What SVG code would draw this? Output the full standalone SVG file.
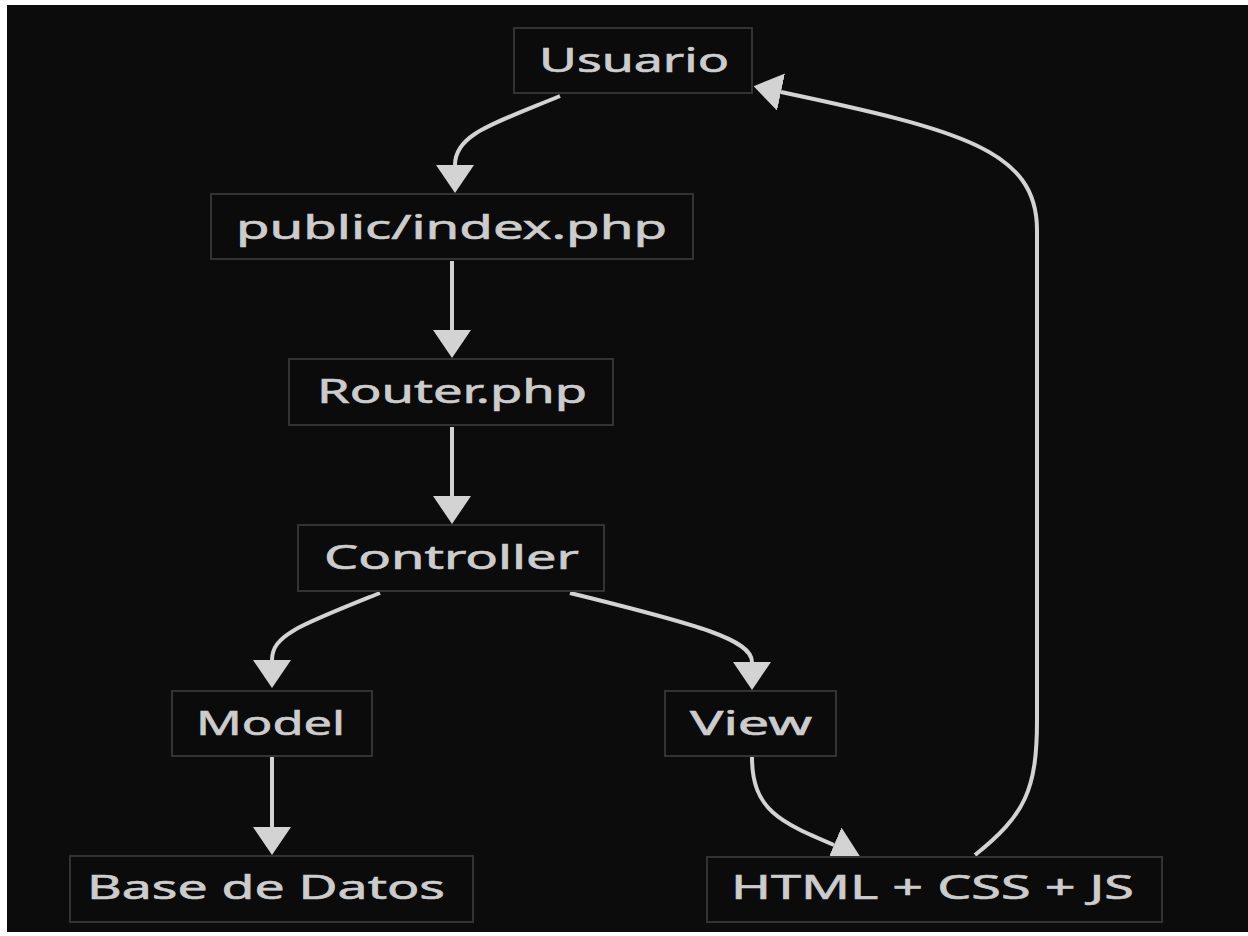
<svg xmlns="http://www.w3.org/2000/svg" width="1248" height="936" viewBox="0 0 1248 936">
<style>
.node rect{fill:#0b0b0b;stroke:#333333;stroke-width:2}
.node text{fill:#cccccc;stroke:#cccccc;stroke-width:0.6;font-family:"Noto Sans","Open Sans","DejaVu Sans",sans-serif;font-size:32px}
.edge{fill:none;stroke:#d3d3d3;stroke-width:4}
</style>
<defs>
<marker id="arrow" viewBox="0 0 28 38" refX="0" refY="19" markerWidth="28" markerHeight="38" markerUnits="userSpaceOnUse" orient="auto">
<path d="M0,0 L28,19 L0,38 z" fill="#d3d3d3"/>
</marker>
</defs>
<rect x="0" y="0" width="1248" height="936" fill="#ffffff"/>
<rect x="7" y="5" width="1241" height="927" fill="#0c0c0c"/>
<g id="connectors">
<path class="edge" d="M560,96 C490,125 455,135 455,165" marker-end="url(#arrow)"/>
<path class="edge" d="M452,261 L452,330" marker-end="url(#arrow)"/>
<path class="edge" d="M452,427 L452,496" marker-end="url(#arrow)"/>
<path class="edge" d="M380,593 C300,625 272,635 272,660" marker-end="url(#arrow)"/>
<path class="edge" d="M570,593 C700,625 752,640 752,662" marker-end="url(#arrow)"/>
<path class="edge" d="M272,757 L272,827" marker-end="url(#arrow)"/>
<path class="edge" d="M752,757 C752,810 780,822 834,845" marker-end="url(#arrow)"/>
<path class="edge" d="M975,855 C1025,815 1037,790 1037,720 L1037,230 C1037,150 960,130 781,92" marker-end="url(#arrow)"/>
</g>
<g id="node-usuario" class="node"><rect x="514" y="28" width="238" height="65"/><text x="539" y="72" textLength="190" lengthAdjust="spacingAndGlyphs">Usuario</text></g>
<g id="node-index" class="node"><rect x="211" y="194" width="482" height="65"/><text x="236" y="239" textLength="431" lengthAdjust="spacingAndGlyphs">public/index.php</text></g>
<g id="node-router" class="node"><rect x="289" y="359" width="324" height="66"/><text x="317" y="403" textLength="270" lengthAdjust="spacingAndGlyphs">Router.php</text></g>
<g id="node-controller" class="node"><rect x="298" y="525" width="306" height="66"/><text x="324" y="569" textLength="255" lengthAdjust="spacingAndGlyphs">Controller</text></g>
<g id="node-model" class="node"><rect x="172" y="691" width="200" height="65"/><text x="196" y="735" textLength="149" lengthAdjust="spacingAndGlyphs">Model</text></g>
<g id="node-view" class="node"><rect x="665" y="691" width="171" height="65"/><text x="690" y="735" textLength="122" lengthAdjust="spacingAndGlyphs">View</text></g>
<g id="node-db" class="node"><rect x="70" y="856" width="403" height="66"/><text x="87" y="899" textLength="358" lengthAdjust="spacingAndGlyphs">Base de Datos</text></g>
<g id="node-html" class="node"><rect x="707" y="857" width="455" height="65"/><text x="731" y="899" textLength="403" lengthAdjust="spacingAndGlyphs">HTML + CSS + JS</text></g>
</svg>
